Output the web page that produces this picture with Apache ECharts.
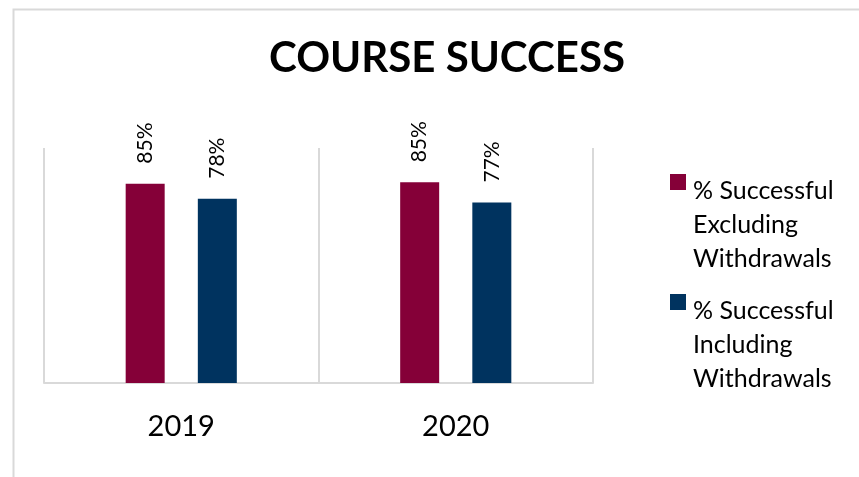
<!DOCTYPE html>
<html>
<head>
<meta charset="utf-8">
<script src="https://cdn.jsdelivr.net/npm/echarts@6/dist/echarts.min.js"></script>
<style>
  html, body { margin: 0; padding: 0; background: #fff; }
  #chart { width: 859px; height: 477px; }
</style>
</head>
<body>
<div id="chart"></div>
<script>
// chart data
const years = ['2019', '2020'];
const seriesNames = ['% Successful\nExcluding\nWithdrawals', '% Successful\nIncluding\nWithdrawals'];
const excludingWithdrawals = [84.8, 85.4];
const includingWithdrawals = [78.4, 76.8];
const colors = ['#850038', '#00335f'];

const chart = echarts.init(document.getElementById('chart'));

const labelStyle = {
    show: true,
    position: 'top',
    rotate: 90,
    align: 'left',
    verticalAlign: 'middle',
    distance: 20,
    fontFamily: 'Lato',
    fontSize: 21,
    color: '#000',
    formatter: p => Math.round(p.value) + '%'
};

// square at the top of a tall box so the marker sits on the first text line
const legendIcon = 'path://M0 0H16V16H0Z M0 101.99H16V102H0Z';

const option = {
    backgroundColor: '#fff',
    animation: false,
    title: {
        text: 'COURSE SUCCESS',
        left: 442,
        top: 32,
        textAlign: 'center',
        textStyle: {
            fontFamily: 'Lato',
            fontWeight: 'bold',
            fontSize: 42,
            color: '#000'
        }
    },
    graphic: [{
        type: 'rect',
        left: 11,
        top: 7,
        shape: { width: 900, height: 520 },
        style: { fill: 'none', stroke: '#d9d9d9', lineWidth: 2 },
        silent: true
    }],
    legend: {
        orient: 'vertical',
        left: 670,
        top: 174,
        padding: 0,
        itemWidth: 16,
        itemHeight: 102,
        itemGap: 18,
        icon: legendIcon,
        textStyle: {
            fontFamily: 'Lato',
            fontSize: 25,
            lineHeight: 34,
            color: '#000',
            padding: [0, 0, 0, 2]
        }
    },
    grid: {
        left: 44,
        right: 266,
        top: 148,
        bottom: 94
    },
    xAxis: {
        type: 'category',
        data: years,
        axisTick: { show: false },
        axisLine: { lineStyle: { color: '#d9d9d9', width: 2 } },
        splitLine: { show: true, lineStyle: { color: '#d9d9d9', width: 2 } },
        axisLabel: {
            margin: 29,
            fontFamily: 'Lato',
            fontSize: 29,
            color: '#000'
        }
    },
    yAxis: {
        type: 'value',
        min: 0,
        max: 100,
        show: false
    },
    series: [
        {
            name: seriesNames[0],
            type: 'bar',
            data: excludingWithdrawals,
            barWidth: 39,
            barGap: '85%',
            itemStyle: { color: colors[0] },
            label: labelStyle
        },
        {
            name: seriesNames[1],
            type: 'bar',
            data: includingWithdrawals,
            barWidth: 39,
            barGap: '85%',
            itemStyle: { color: colors[1] },
            label: labelStyle
        }
    ]
};

chart.setOption(option);
</script>
</body>
</html>
